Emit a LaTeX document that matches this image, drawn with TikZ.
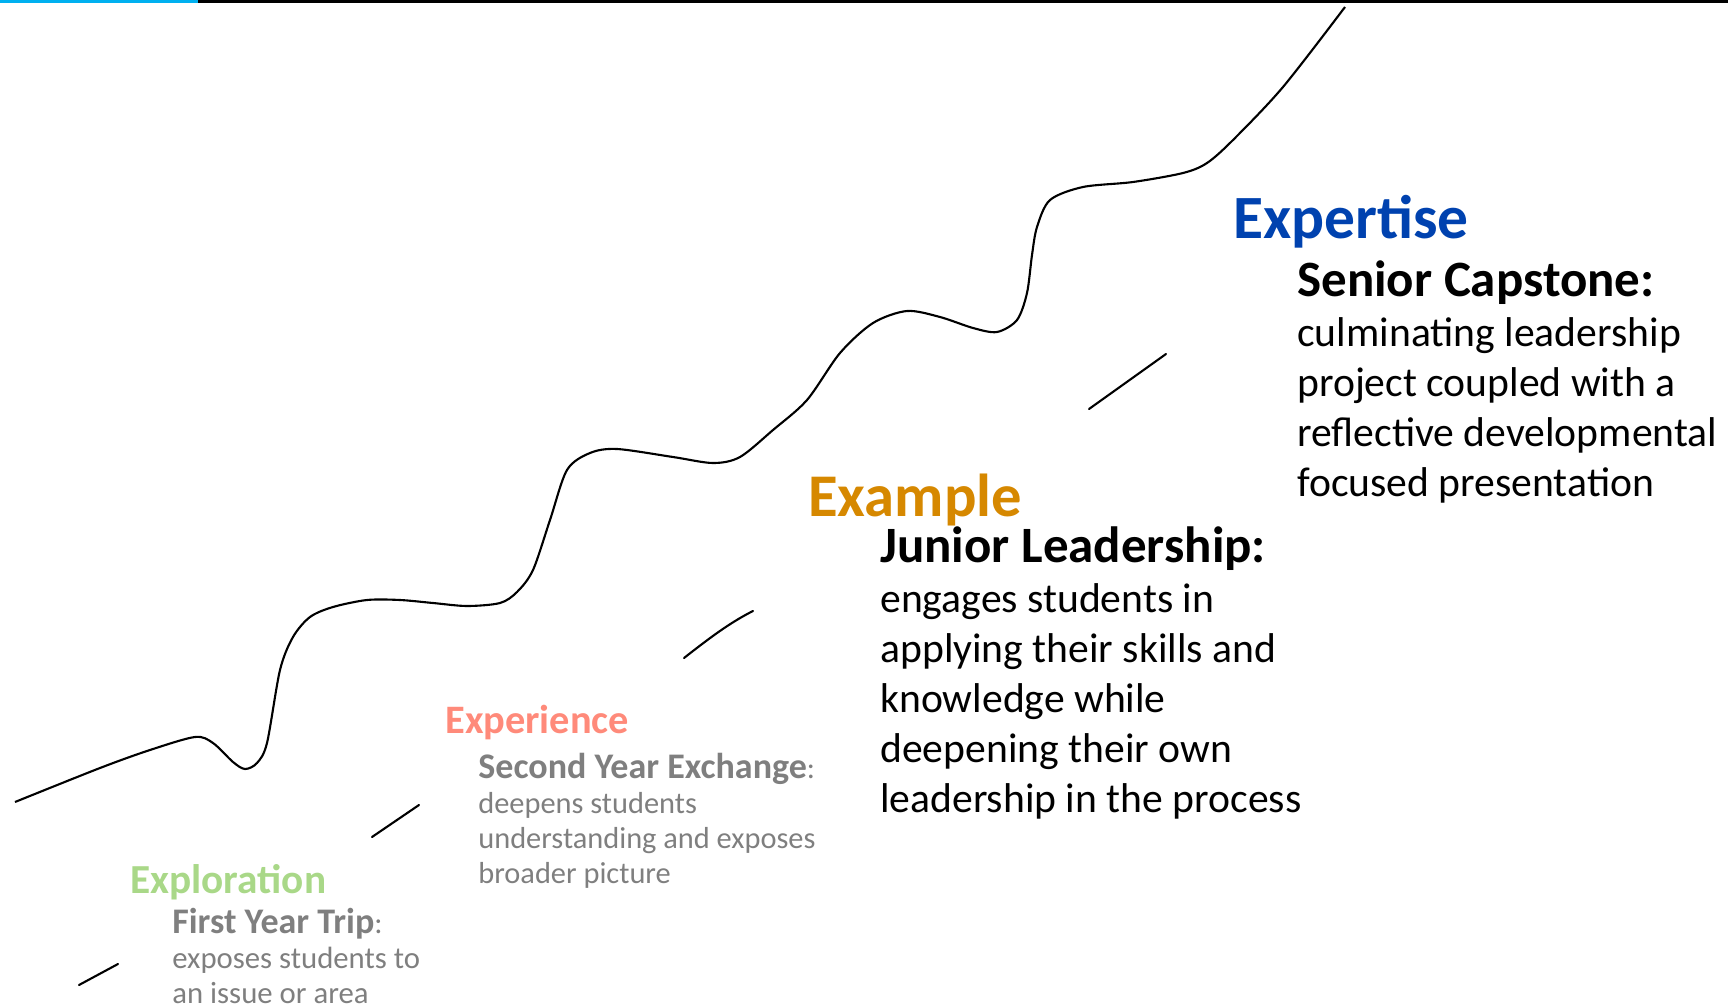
\documentclass[tikz,border=0pt]{standalone}
\usepackage{fontspec}
\setmainfont{Carlito}
\usepackage{tikz}
\definecolor{barblue}{RGB}{0,176,240}
\definecolor{explgreen}{RGB}{169,216,136}
\definecolor{expsalmon}{RGB}{255,138,122}
\definecolor{exmorange}{RGB}{214,136,0}
\definecolor{expblue}{RGB}{0,66,175}
\definecolor{stagegray}{RGB}{127,127,127}
\tikzset{
    stagetitle/.style={
        inner sep=0,
        anchor=base west,
        font=\bfseries,
    },
    stagetext/.style={
        inner sep=0,
        anchor=base west,
        align=left,
    },
    slash/.style={
        line width=1.2pt,
        line cap=round,
    },
}

\begin{document}
\begin{tikzpicture}[x=0.02cm, y=-0.02cm]
            \useasboundingbox (0, 0) rectangle (1728, 1007);

            % top bar
            \draw[line width=1.8pt, barblue] (0, 1.5) -- (198, 1.5);
            \draw[line width=1.8pt, black] (198, 1.5) -- (1728, 1.5);

            % the path
            \draw[line width=1.2pt] plot[smooth, tension=0.5] coordinates {
                (15,802) (100,768) (150,750) (195,737) (213,743) (233,762)
                (245,769) (257,763) (267,743) (280,670) (293,637) (310,617)
                (333,607) (367,600) (400,600) (433,603) (467,606) (500,603)
                (517,592) (533,570) (550,520) (567,470) (590,453) (617,449)
                (673,457) (713,463) (740,457) (773,430) (807,400) (840,353)
                (873,323) (907,311) (940,317) (973,328) (997,332) (1017,320)
                (1027,293) (1032,255) (1037,227) (1050,200) (1083,187)
                (1133,182) (1183,173) (1207,163) (1233,140) (1283,87) (1345,7)
            };

            % slashes
            \draw[slash] (79, 985) -- (118, 964);
            \draw[slash] (372, 837) -- (419, 805);
            \draw[slash] (684, 658) .. controls (707, 640) and (729, 623) .. (753, 611);
            \draw[slash] (1089, 409) -- (1166, 354);

            % stages (text nodes sit on their last line)
            \node[stagetitle, explgreen, font=\bfseries\fontsize{23.5}{28}\selectfont]
                at (130, 893) (exploration) {Exploration};
            \node[stagetext, stagegray, font=\fontsize{17.5}{19.85}\selectfont]
                at (172, 1003) (firstyear)
                {{\fontsize{20.5}{19.85}\selectfont\bfseries First Year Trip}:\\
                 exposes students to\\ an issue or area};

            \node[stagetitle, expsalmon, font=\bfseries\fontsize{23}{27}\selectfont]
                at (445, 733) (experience) {Experience};
            \node[stagetext, stagegray, font=\fontsize{17.3}{19.85}\selectfont]
                at (478, 883) (secondyear)
                {{\fontsize{20.5}{19.85}\selectfont\bfseries Second Year Exchange}:\\
                 deepens students\\ understanding and exposes\\ broader picture};

            \node[stagetitle, exmorange, font=\bfseries\fontsize{34.5}{40}\selectfont]
                at (808, 516) (example) {Example};
            \node[stagetext, font=\fontsize{23.7}{28.35}\selectfont]
                at (880, 812) (junior)
                {{\fontsize{29}{28.35}\selectfont\bfseries Junior Leadership:}\\
                 engages students in\\ applying their skills and\\ knowledge while\\
                 deepening their own\\ leadership in the process};

            \node[stagetitle, expblue, font=\bfseries\fontsize{35}{41}\selectfont]
                at (1233, 238) (expertise) {Expertise};
            \node[stagetext, font=\fontsize{23.7}{28.35}\selectfont]
                at (1297, 496) (senior)
                {{\fontsize{29}{28.35}\selectfont\bfseries Senior Capstone:}\\
                 culminating leadership\\ project coupled with a\\
                 reflective developmental\\ focused presentation};
        \end{tikzpicture}
\end{document}
